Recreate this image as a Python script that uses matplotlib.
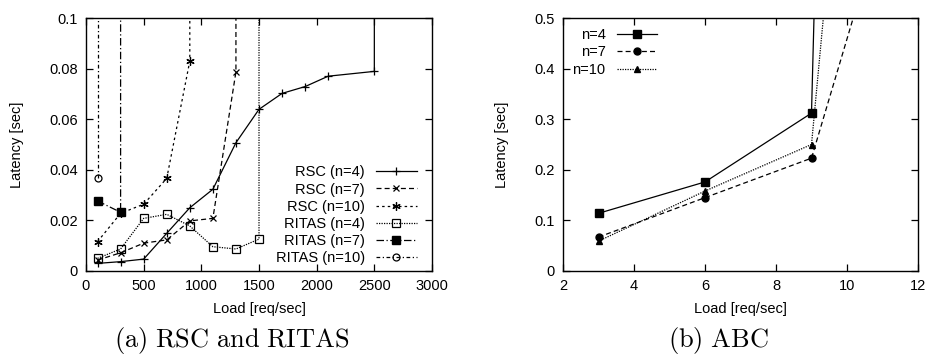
import matplotlib.pyplot as plt
from matplotlib.ticker import FormatStrFormatter

plt.rcParams['font.family'] = ['Liberation Sans', 'DejaVu Sans']
plt.rcParams['mathtext.fontset'] = 'cm'

# (a) latency vs load for RSC and RITAS; the last point of each run saturates off the top
rsc4_x = [100, 300, 500, 700, 900, 1100, 1300, 1500, 1700, 1900, 2100, 2500, 2500]
rsc4_y = [0.003, 0.0037, 0.0047, 0.0149, 0.025, 0.0323, 0.0507, 0.0639, 0.0702, 0.0729, 0.077, 0.0789, 0.5]
rsc7_x = [100, 300, 500, 700, 900, 1100, 1300, 1300]
rsc7_y = [0.0043, 0.0072, 0.011, 0.0123, 0.0198, 0.0208, 0.0787, 0.5]
rsc10_x = [100, 300, 500, 700, 900, 900]
rsc10_y = [0.0116, 0.0228, 0.0264, 0.0366, 0.083, 0.5]
ritas4_x = [100, 300, 500, 700, 900, 1100, 1300, 1500, 1500]
ritas4_y = [0.005, 0.0087, 0.0208, 0.0224, 0.0178, 0.0096, 0.0087, 0.0126, 0.5]
ritas7_x = [100, 300, 300]
ritas7_y = [0.0277, 0.0232, 0.5]
ritas10_x = [100, 100]
ritas10_y = [0.0369, 0.5]

# (b) latency vs load for ABC
abc_x = [3, 6, 9]
abc4_y = [0.114, 0.176, 0.312]
abc7_y = [0.067, 0.145, 0.223]
abc10_y = [0.059, 0.158, 0.25]
abc4_end = (10, 3.0)
abc7_end = (12, 0.93)
abc10_end = (10, 1.0)

fig = plt.figure(figsize=(9.33, 3.59), dpi=100)
W, H = 933, 359
ax1 = fig.add_axes([86 / W, 1 - 271 / H, (432 - 86) / W, (271 - 18) / H])
ax2 = fig.add_axes([563 / W, 1 - 271 / H, (918 - 563) / W, (271 - 18) / H])

lw = 0.9
ms = 6
ax1.plot(rsc4_x, rsc4_y, color='black', lw=lw, ls='-', marker='+', ms=ms, mew=0.9, label='RSC (n=4)')
ax1.plot(rsc7_x, rsc7_y, color='black', lw=lw, ls=(0, (4, 2.5)), marker='x', ms=ms - 1, mew=0.9, label='RSC (n=7)')
ax1.plot(rsc10_x, rsc10_y, color='black', lw=lw, ls=(0, (2, 2.5)), marker=(6, 2, 0), ms=ms, mew=0.9, label='RSC (n=10)')
ax1.plot(ritas4_x, ritas4_y, color='black', lw=lw, ls=(0, (1, 1)), marker='s', ms=ms, mfc='none', mew=0.9, label='RITAS (n=4)')
ax1.plot(ritas7_x, ritas7_y, color='black', lw=lw, ls=(0, (6, 2, 1, 2)), marker='s', ms=ms, mfc='black', label='RITAS (n=7)')
ax1.plot(ritas10_x, ritas10_y, color='black', lw=lw, ls=(0, (3, 2, 1, 2)), marker='o', ms=ms - 1, mfc='none', mew=0.9, label='RITAS (n=10)')

ax1.set_xlim(0, 3000)
ax1.set_ylim(0, 0.1)
ax1.set_xticks(range(0, 3001, 500))
ax1.set_yticks([0, 0.02, 0.04, 0.06, 0.08, 0.1])
ax1.yaxis.set_major_formatter(FormatStrFormatter('%g'))
ax1.set_xlabel('Load [req/sec]', fontsize=10.5, labelpad=6)
ax1.set_ylabel('Latency [sec]', fontsize=10.5, labelpad=18)
ax1.legend(loc='lower right', frameon=False, markerfirst=False, fontsize=10.5,
           handlelength=2.8, labelspacing=0.22, handletextpad=0.75,
           borderaxespad=0.3, bbox_to_anchor=(0.985, -0.018))

ax2.plot(abc_x + [abc4_end[0]], abc4_y + [abc4_end[1]], color='black', lw=lw, ls='-', marker='s', ms=ms, markevery=[0, 1, 2], label='n=4')
ax2.plot(abc_x + [abc7_end[0]], abc7_y + [abc7_end[1]], color='black', lw=lw, ls=(0, (4, 2.5)), marker='o', ms=ms - 1, markevery=[0, 1, 2], label='n=7')
ax2.plot(abc_x + [abc10_end[0]], abc10_y + [abc10_end[1]], color='black', lw=lw, ls=(0, (1, 1)), marker='^', ms=ms - 1.5, markevery=[0, 1, 2], label='n=10')

ax2.set_xlim(2, 12)
ax2.set_ylim(0, 0.5)
ax2.set_xticks(range(2, 13, 2))
ax2.set_yticks([0, 0.1, 0.2, 0.3, 0.4, 0.5])
ax2.yaxis.set_major_formatter(FormatStrFormatter('%g'))
ax2.set_xlabel('Load [req/sec]', fontsize=10.5, labelpad=6)
ax2.set_ylabel('Latency [sec]', fontsize=10.5, labelpad=18)
ax2.legend(loc='upper left', frameon=False, markerfirst=False, fontsize=10.5,
           handlelength=2.8, labelspacing=0.22, handletextpad=0.75,
           borderaxespad=0.3, bbox_to_anchor=(-0.002, 1.0))

for ax in (ax1, ax2):
    ax.tick_params(direction='in', top=True, right=True, length=5, width=0.9,
                   labelsize=10.5, pad=6)
    for s in ax.spines.values():
        s.set_linewidth(1.0)

fig.text(232 / W, 1 - 341 / H, r'$\mathrm{(a)\ RSC\ and\ RITAS}$', ha='center', va='center', fontsize=19)
fig.text(718 / W, 1 - 341 / H, r'$\mathrm{(b)\ ABC}$', ha='center', va='center', fontsize=19)

fig.savefig('out.png', dpi=100)
